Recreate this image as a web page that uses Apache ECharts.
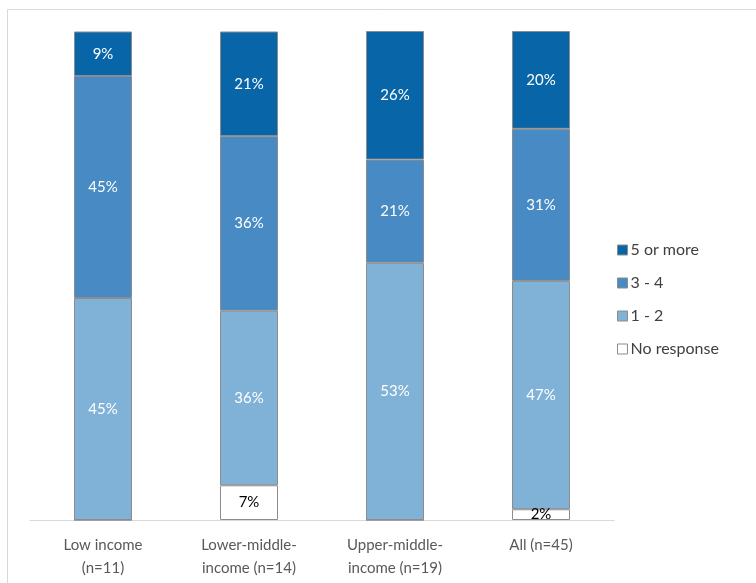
<!DOCTYPE html>
<html>
<head>
<meta charset="utf-8">
<script src="https://cdn.jsdelivr.net/npm/echarts@6/dist/echarts.min.js"></script>
<style>
  html, body { margin: 0; padding: 0; background: #ffffff; }
  #chart { width: 756px; height: 583px; }
</style>
</head>
<body>
<div id="chart"></div>
<script>
// Income groups (respondent counts in brackets)
const categories = ['Low income\n(n=11)', 'Lower-middle-\nincome (n=14)', 'Upper-middle-\nincome (n=19)', 'All (n=45)'];

// Share of respondents per answer, percent of each group
const noResponse = [0, 7.1, 0, 2.2];
const oneToTwo = [45.4, 35.7, 52.6, 46.7];
const threeToFour = [45.4, 35.7, 21.1, 31.1];
const fiveOrMore = [9.1, 21.4, 26.3, 20.0];

const seriesNames = ['No response', '1 - 2', '3 - 4', '5 or more'];
const legendOrder = ['5 or more', '3 - 4', '1 - 2', 'No response'];

const FONT = 'Lato, "Open Sans", sans-serif';
const EDGE = '#8c8c8c';

function segment(name, values, fill, textColor) {
  return {
    name: name,
    type: 'bar',
    stack: 'share',
    barWidth: 58,
    data: values,
    itemStyle: { color: fill, borderColor: EDGE, borderWidth: 1 },
    label: {
      show: true,
      position: 'inside',
      color: textColor,
      fontFamily: FONT,
      fontSize: 15,
      formatter: p => (p.value > 0 ? Math.round(p.value) + '%' : '')
    },
    emphasis: { disabled: true }
  };
}

const chart = echarts.init(document.getElementById('chart'), null, { renderer: 'canvas' });

chart.setOption({
  animation: false,
  backgroundColor: '#ffffff',
  graphic: [{
    type: 'rect',
    shape: { x: 7.5, y: 9.5, width: 800, height: 640 },
    style: { fill: 'none', stroke: '#d9d9d9', lineWidth: 1 },
    silent: true,
    z: -10
  }],
  grid: { left: 30, right: 142, top: 31, bottom: 63, containLabel: false },
  legend: {
    data: legendOrder,
    orient: 'vertical',
    left: 612,
    top: 237,
    itemWidth: 10,
    itemHeight: 10,
    itemGap: 17,
    icon: 'rect',
    selectedMode: false,
    textStyle: { fontFamily: FONT, fontSize: 16, color: '#404040', padding: [0, 0, 0, -2] },
    itemStyle: { borderColor: EDGE, borderWidth: 1 }
  },
  xAxis: {
    type: 'category',
    data: categories,
    axisLine: { lineStyle: { color: '#d9d9d9', width: 1 } },
    axisTick: { show: false },
    axisLabel: {
      fontFamily: FONT,
      fontSize: 15,
      color: '#595959',
      lineHeight: 23,
      margin: 14,
      interval: 0
    }
  },
  yAxis: {
    type: 'value',
    min: 0,
    max: 100,
    show: false,
    splitLine: { show: false }
  },
  series: [
    segment(seriesNames[0], noResponse, '#ffffff', '#000000'),
    segment(seriesNames[1], oneToTwo, '#80b2d7', '#ffffff'),
    segment(seriesNames[2], threeToFour, '#478ac4', '#ffffff'),
    segment(seriesNames[3], fiveOrMore, '#0866a8', '#ffffff')
  ]
});
</script>
</body>
</html>
